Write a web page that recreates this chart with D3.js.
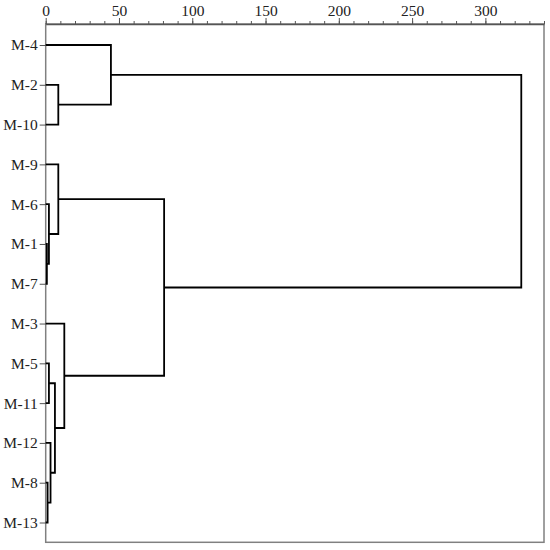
<!DOCTYPE html>
<html>
<head>
<meta charset="utf-8">
<script src="https://cdn.jsdelivr.net/npm/d3@7"></script>
<style>
  body { margin: 0; background: #fff; }
  text { font-family: "Liberation Serif", "Times New Roman", serif; }
</style>
</head>
<body>
<script>
// leaf order, top to bottom
var leaves = ["M-4", "M-2", "M-10", "M-9", "M-6", "M-1", "M-7", "M-3", "M-5", "M-11", "M-12", "M-8", "M-13"];

// merges: node "n" + index is made from mergeA[i] and mergeB[i] at mergeHeight[i]
var mergeA = ["M-2", "M-4", "M-1", "M-6", "M-9", "M-5", "M-8", "M-12", "n5", "M-3", "n4", "n1"];
var mergeB = ["M-10", "n0", "M-7", "n2", "n3", "M-11", "M-13", "n6", "n7", "n8", "n9", "n10"];
var mergeHeight = [8.6, 44.5, 0.8, 2.2, 8.6, 2.2, 1.3, 3.3, 6.3, 12.7, 80.8, 324.5];

var majorTicks = [0, 50, 100, 150, 200, 250, 300];
var xMax = 340;

var W = 550, H = 550;
var frameL = 45.7, frameR = 544, frameT = 24, frameB = 542.3;

var svg = d3.select("body").append("svg")
    .attr("width", W)
    .attr("height", H);

var x = d3.scaleLinear().domain([0, xMax]).range([frameL, frameR]);
var y = d3.scalePoint().domain(leaves).range([45, 522.5]);

// frame
svg.append("rect")
    .attr("x", frameL).attr("y", frameT)
    .attr("width", frameR - frameL).attr("height", frameB - frameT)
    .attr("fill", "none")
    .attr("stroke", "#808080")
    .attr("stroke-width", 1.5);

// minor ticks on top
var minor = svg.append("g")
    .attr("transform", "translate(0," + frameT + ")")
    .call(d3.axisTop(x).tickValues(d3.range(0, xMax + 1, 10)).tickSize(3).tickFormat(""));
minor.select(".domain").remove();
minor.selectAll("line").attr("stroke", "#555");

var topAxis = svg.append("g")
    .attr("transform", "translate(0," + frameT + ")")
    .call(d3.axisTop(x).tickValues(majorTicks).tickSize(6).tickPadding(2).tickSizeOuter(0));
topAxis.select(".domain").attr("stroke", "#555").attr("stroke-width", 1.3);
topAxis.selectAll("line").attr("stroke", "#555");
topAxis.selectAll("text")
    .attr("font-family", "Liberation Serif")
    .attr("font-size", 15.5)
    .attr("fill", "#222");

var leftAxis = svg.append("g")
    .attr("transform", "translate(" + frameL + ",0)")
    .call(d3.axisLeft(y).tickSize(6).tickPadding(2).tickSizeOuter(0));
leftAxis.select(".domain").remove();
leftAxis.selectAll("line").attr("stroke", "#555");
leftAxis.selectAll("text")
    .attr("font-family", "Liberation Serif")
    .attr("font-size", 15.5)
    .attr("fill", "#222");

// positions of every node
var nodeY = {}, nodeH = {};
leaves.forEach(function (d) { nodeY[d] = y(d); nodeH[d] = 0; });

var tree = svg.append("g")
    .attr("fill", "none")
    .attr("stroke", "#000")
    .attr("stroke-width", 1.8);

for (var i = 0; i < mergeA.length; i++) {
    var a = mergeA[i], b = mergeB[i], h = mergeHeight[i];
    var ya = nodeY[a], yb = nodeY[b];
    var path = d3.path();
    path.moveTo(x(nodeH[a]), ya);
    path.lineTo(x(h), ya);
    path.lineTo(x(h), yb);
    path.lineTo(x(nodeH[b]), yb);
    tree.append("path").attr("d", path.toString());
    nodeY["n" + i] = (ya + yb) / 2;
    nodeH["n" + i] = h;
}
</script>
</body>
</html>
